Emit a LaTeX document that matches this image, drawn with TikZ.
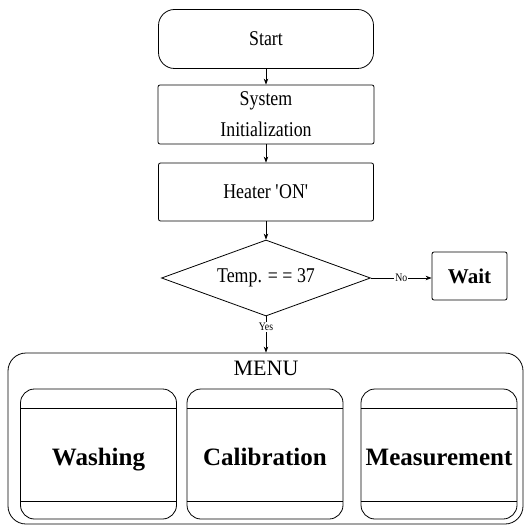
\documentclass[tikz,border=0pt]{standalone}
\usepackage{fontspec}
\setmainfont[FakeStretch=0.85]{Liberation Serif}
\newfontfamily\plainserif{Liberation Serif}
\usetikzlibrary{shapes.geometric,arrows.meta}
\begin{document}
\begin{tikzpicture}[x=1pt,y=-1pt,
  box/.style={draw, line width=0.8pt, inner sep=0pt, align=center, font=\fontsize{21}{31}\selectfont},
  arr/.style={line width=0.8pt, -{Stealth[length=6pt,width=4.5pt]}},
  lbl/.style={fill=white, inner sep=1pt, font=\fontsize{11.5}{13}\selectfont},
  sub/.style={draw, line width=0.8pt, rounded corners=14pt, minimum width=156pt, minimum height=130pt, inner sep=0pt, text height=22pt, text depth=0pt, font=\plainserif\bfseries\fontsize{25}{28}\selectfont}]
\useasboundingbox (0,0) rectangle (525,526);
\node[box, rounded corners=16pt, minimum width=215pt, minimum height=59pt] (start) at (266,39) {Start};
\node[box, rounded corners=2pt, minimum width=216pt, minimum height=59pt] (sys) at (266,114.5) {System\\Initialization};
\node[box, rounded corners=2pt, minimum width=215pt, minimum height=58pt] (heat) at (266,192) {Heater \textquotesingle ON\textquotesingle};
\node[box, diamond, aspect=2.75, minimum width=209pt, minimum height=76pt] (dec) at (266,278) {Temp. = = 37};
\node[box, rounded corners=2pt, minimum width=75pt, minimum height=48pt, font=\plainserif\bfseries\fontsize{21}{24}\selectfont] (wait) at (469.5,276) {Wait};
\node[draw, line width=0.8pt, rounded corners=18pt, minimum width=515pt, minimum height=171pt, inner sep=0pt] (menu) at (265.5,438.5) {};
\node[font=\plainserif\fontsize{22}{24}\selectfont] (menulbl) at (266,368) {MENU};
\node[sub] (wash) at (98.5,454) {Washing};
\node[sub] (cal) at (265,454) {Calibration};
\node[sub] (meas) at (439,454) {Measurement};
\foreach \n in {wash,cal,meas}{
  \draw[line width=0.8pt] ([yshift=-20pt]\n.north west) -- ([yshift=-20pt]\n.north east);
  \draw[line width=0.8pt] ([yshift=18pt]\n.south west) -- ([yshift=18pt]\n.south east);
}
\draw[arr] (start.south) -- (sys.north);
\draw[arr] (sys.south) -- (heat.north);
\draw[arr] (heat.south) -- (dec.north);
\draw[arr] (dec.east) -- node[lbl]{No} (dec.east -| wait.west);
\draw[arr] (dec.south) -- node[lbl, pos=0.3]{Yes} (dec.south |- menu.north);
\end{tikzpicture}
\end{document}
